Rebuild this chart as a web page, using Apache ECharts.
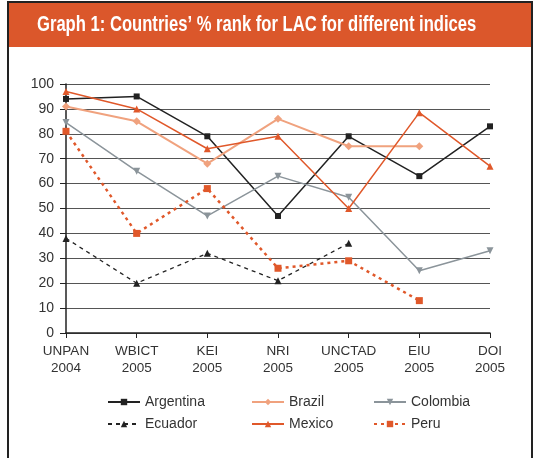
<!DOCTYPE html>
<html>
<head>
<meta charset="utf-8">
<script src="https://cdn.jsdelivr.net/npm/echarts@6/dist/echarts.min.js"></script>
<style>
  html, body { margin: 0; padding: 0; background: #fff; }
  #main { width: 533px; height: 458px; }
</style>
</head>
<body>
<div id="main"></div>
<script>
var categories = ['UNPAN\n2004', 'WBICT\n2005', 'KEI\n2005', 'NRI\n2005', 'UNCTAD\n2005', 'EIU\n2005', 'DOI\n2005'];
var argentina = [94, 95, 79, 47, 79, 63, 83];
var brazil    = [91, 85, 68, 86, 75, 75, null];
var colombia  = [84.5, 65, 47, 63, 54.5, 25, 33];
var ecuador   = [38, 20, 32, 21, 36, null, null];
var mexico    = [97, 90, 74, 79, 50, 88.5, 67];
var peru      = [81, 40, 58, 26, 29, 13, null];
var yTicks = { min: 0, max: 100, step: 10 };

var font = '"Liberation Sans", Arial, sans-serif';
var myChart = echarts.init(document.getElementById('main'));

function legendBox(names, left) {
  return {
    data: names,
    orient: 'vertical',
    left: left,
    top: 390,
    itemWidth: 32,
    itemHeight: 8,
    itemGap: 8,
    textStyle: { fontFamily: font, fontSize: 14, color: '#333' }
  };
}

var option = {
  backgroundColor: '#fff',
  animation: false,
  graphic: [
    { type: 'rect', shape: { x: 8, y: 2, width: 524, height: 460 },
      style: { fill: 'none', stroke: '#222', lineWidth: 2 } },
    { type: 'rect', shape: { x: 9, y: 3, width: 522, height: 44 },
      style: { fill: '#db572b' } },
    // condensed title: real text squeezed horizontally
    { type: 'text', x: 37, y: 25, scaleX: 0.755, scaleY: 1,
      style: { text: 'Graph 1: Countries\u2019 % rank for LAC for different indices',
               fill: '#fff', font: 'bold 22px ' + font, textVerticalAlign: 'middle' } }
  ],
  legend: [
    legendBox(['Argentina', 'Ecuador'], 102),
    legendBox(['Brazil', 'Mexico'], 246),
    legendBox(['Colombia', 'Peru'], 368)
  ],
  grid: { left: 66, right: 43, top: 84, bottom: 125 },
  xAxis: {
    type: 'category',
    data: categories,
    boundaryGap: false,
    axisLine: { lineStyle: { color: '#222', width: 1.5 } },
    axisTick: { show: true, length: 5, interval: 0, lineStyle: { color: '#222' } },
    axisLabel: { fontFamily: font, fontSize: 13.5, color: '#333', lineHeight: 17, margin: 10, interval: 0 },
    splitLine: { show: false }
  },
  yAxis: {
    type: 'value',
    min: yTicks.min,
    max: yTicks.max,
    interval: yTicks.step,
    axisLine: { show: true, lineStyle: { color: '#222', width: 1.5 } },
    axisTick: { show: true, length: 6, lineStyle: { color: '#222' } },
    axisLabel: { fontFamily: font, fontSize: 14, color: '#333', margin: 12 },
    splitLine: { show: true, lineStyle: { color: '#555', width: 1 } }
  },
  series: [
    { name: 'Argentina', type: 'line', data: argentina, symbol: 'rect', symbolSize: 6,
      itemStyle: { color: '#222' }, lineStyle: { color: '#222', width: 1.5 } },
    { name: 'Brazil', type: 'line', data: brazil, symbol: 'diamond', symbolSize: 8,
      itemStyle: { color: '#f0a27e' }, lineStyle: { color: '#f0a27e', width: 2 } },
    { name: 'Colombia', type: 'line', data: colombia, symbol: 'triangle', symbolRotate: 180, symbolSize: 7,
      itemStyle: { color: '#8b949a' }, lineStyle: { color: '#8b949a', width: 1.5 } },
    { name: 'Ecuador', type: 'line', data: ecuador, symbol: 'triangle', symbolSize: 7,
      itemStyle: { color: '#222' }, lineStyle: { color: '#222', width: 1.3, type: [4, 4] } },
    { name: 'Mexico', type: 'line', data: mexico, symbol: 'triangle', symbolSize: 7,
      itemStyle: { color: '#e0582a' }, lineStyle: { color: '#e0582a', width: 1.5 } },
    { name: 'Peru', type: 'line', data: peru, symbol: 'rect', symbolSize: 7,
      itemStyle: { color: '#e0582a' }, lineStyle: { color: '#e0582a', width: 2.5, type: [3, 4] } }
  ]
};
myChart.setOption(option);
</script>
</body>
</html>
